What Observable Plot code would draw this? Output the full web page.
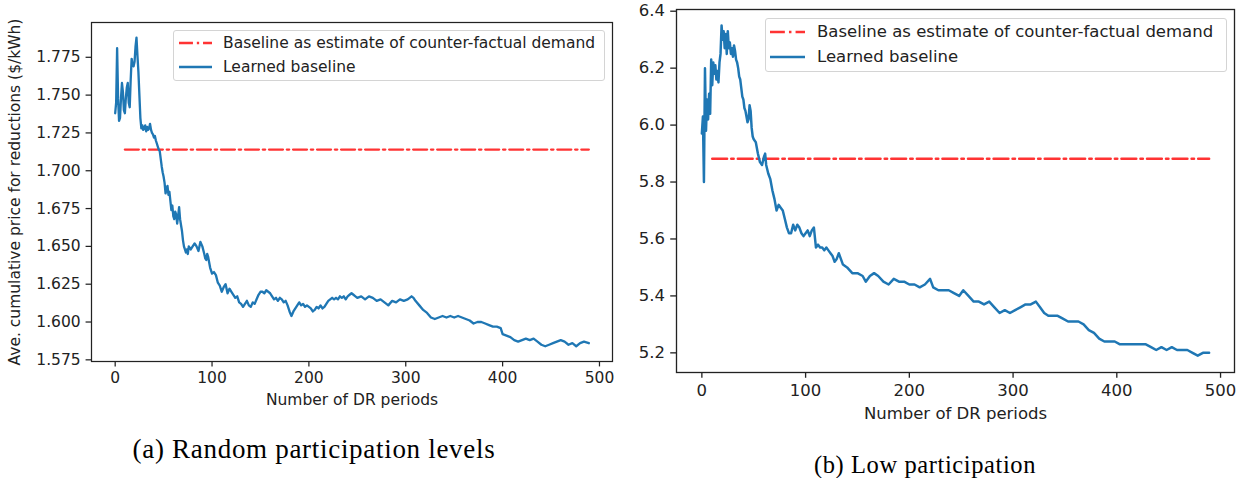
<!DOCTYPE html>
<html><head><meta charset="utf-8">
<script src="https://cdn.jsdelivr.net/npm/d3@7"></script>
<script src="https://cdn.jsdelivr.net/npm/@observablehq/plot@0.6"></script>
<style>
html,body{margin:0;padding:0;background:#fff;}
body{width:1239px;height:478px;overflow:hidden;position:relative;font-family:"DejaVu Sans",sans-serif;}
.panel{position:absolute;top:0;}
.legend{position:absolute;box-sizing:border-box;border:1px solid #d4d4d4;border-radius:3px;background:rgba(255,255,255,0.8);color:#222;}
.legend .row{position:absolute;left:0;white-space:nowrap;line-height:1;}
.legend svg{position:absolute;left:0;top:0;}
.cap{position:absolute;font-family:"Liberation Serif",serif;white-space:nowrap;color:#000;transform:translateX(-50%);}
</style></head><body>
<div id="pa" class="panel" style="left:0px"></div>
<div id="pb" class="panel" style="left:620px"></div>
<div id="la" class="legend" style="left:173px;top:30px;width:432px;height:51px;font-size:15.5px"></div>
<div id="lb" class="legend" style="left:765px;top:18px;width:462px;height:54px;font-size:16.5px"></div>
<div class="cap" style="left:314px;top:434px;font-size:27px;letter-spacing:0.7px">(a) Random participation levels</div>
<div class="cap" style="left:925px;top:451px;font-size:24.5px;letter-spacing:0.6px">(b) Low participation</div>
<script>
// ---------- data ----------
const xTicks = [0, 100, 200, 300, 400, 500];
const leftYTicks = [1.575, 1.600, 1.625, 1.650, 1.675, 1.700, 1.725, 1.750, 1.775];
const rightYTicks = [5.2, 5.4, 5.6, 5.8, 6.0, 6.2, 6.4];
const seriesNames = ["Baseline as estimate of counter-factual demand", "Learned baseline"];
const xLabel = "Number of DR periods";
const yLabelA = "Ave. cumulative price for reductions ($/kWh)";

const baselinePeriods = [10, 489];
const baselineA = [1.714, 1.714];
const baselineB = [5.882, 5.882];

const periodsA = [0,1,2,3,4,5,6,7,8,9,10,11,12,13,14,15,16,17,18,19,20,21,22,23,24,25,26,27,28,29,30,31,32,33,34,35,36,37,38,39,40,41,42,43,44,45,46,47,48,49,50,51,52,53,54,55,56,57,58,59,60,61,62,63,64,65,66,67,68,69,70,71,72,73,74,75,76,78,80,82,84,86,88,90,92,93,94,95,96,98,100,102,104,106,108,110,112,114,116,118,120,122,124,126,128,130,132,134,136,138,140,142,144,146,148,150,152,154,156,158,160,162,164,166,168,170,172,174,176,178,180,182,184,186,188,190,192,194,196,198,200,202,204,206,208,210,212,214,216,218,220,222,224,226,228,230,232,234,236,238,240,242,244,246,248,250,254,258,262,266,270,274,278,282,286,290,294,298,302,306,308,310,314,318,322,326,330,334,338,342,346,350,354,358,362,366,370,374,378,382,386,390,394,398,400,404,408,412,416,420,424,428,432,436,440,444,448,452,456,460,464,468,472,476,480,484,489];
const priceA = [1.738,1.745,1.781,1.748,1.733,1.735,1.748,1.758,1.752,1.740,1.738,1.748,1.755,1.758,1.745,1.742,1.760,1.774,1.770,1.769,1.772,1.782,1.788,1.776,1.765,1.750,1.735,1.728,1.730,1.727,1.728,1.730,1.726,1.729,1.727,1.728,1.731,1.727,1.725,1.724,1.722,1.723,1.720,1.718,1.716,1.714,1.713,1.708,1.703,1.699,1.696,1.692,1.685,1.688,1.690,1.684,1.686,1.680,1.674,1.677,1.670,1.668,1.673,1.671,1.665,1.670,1.676,1.668,1.664,1.660,1.654,1.650,1.648,1.646,1.648,1.645,1.650,1.648,1.650,1.652,1.650,1.647,1.653,1.650,1.645,1.642,1.641,1.645,1.643,1.636,1.632,1.633,1.631,1.626,1.624,1.620,1.623,1.625,1.619,1.622,1.620,1.618,1.616,1.617,1.613,1.612,1.610,1.612,1.614,1.611,1.610,1.613,1.612,1.615,1.618,1.620,1.620,1.619,1.621,1.620,1.619,1.617,1.615,1.616,1.614,1.616,1.615,1.613,1.614,1.611,1.607,1.604,1.607,1.609,1.611,1.613,1.611,1.612,1.610,1.611,1.610,1.609,1.607,1.608,1.610,1.609,1.611,1.609,1.610,1.612,1.614,1.615,1.616,1.615,1.616,1.615,1.617,1.616,1.617,1.615,1.617,1.618,1.619,1.618,1.617,1.616,1.617,1.615,1.617,1.616,1.614,1.615,1.613,1.611,1.614,1.613,1.615,1.614,1.615,1.617,1.616,1.614,1.611,1.608,1.606,1.603,1.602,1.603,1.604,1.603,1.604,1.603,1.604,1.603,1.602,1.601,1.599,1.600,1.600,1.599,1.598,1.597,1.597,1.596,1.592,1.591,1.590,1.588,1.587,1.588,1.589,1.588,1.589,1.587,1.585,1.584,1.585,1.586,1.587,1.588,1.587,1.585,1.586,1.584,1.586,1.587,1.586];

const periodsB = [0,1,2,3,4,5,6,7,8,9,10,11,12,13,14,15,16,17,18,19,20,21,22,23,24,25,26,27,28,29,30,31,32,33,34,35,36,37,38,39,40,41,42,43,44,45,46,47,48,49,50,52,54,56,58,60,61,62,64,66,68,70,72,74,76,78,80,82,84,86,88,90,92,94,96,98,100,102,104,106,108,110,112,114,116,118,120,122,124,126,128,130,132,134,136,140,145,150,155,158,162,166,170,175,180,185,190,195,200,205,210,215,220,223,228,233,238,243,248,252,257,262,267,272,277,282,287,292,297,302,307,312,317,322,326,330,334,338,343,348,353,358,363,368,373,378,383,388,393,398,403,408,413,418,423,428,433,438,443,448,453,458,463,468,473,478,483,489];
const priceB = [5.97,6.03,5.80,6.20,5.98,6.09,6.02,6.11,6.04,6.23,6.14,6.22,6.18,6.21,6.16,6.19,6.15,6.22,6.25,6.35,6.30,6.33,6.27,6.32,6.25,6.33,6.27,6.29,6.25,6.27,6.24,6.28,6.26,6.23,6.22,6.20,6.17,6.16,6.13,6.10,6.09,6.06,6.05,6.03,6.01,6.02,6.07,6.05,5.99,5.96,5.95,5.94,5.90,5.87,5.86,5.89,5.90,5.86,5.83,5.81,5.77,5.74,5.70,5.72,5.71,5.70,5.67,5.64,5.62,5.62,5.65,5.63,5.65,5.64,5.62,5.61,5.62,5.63,5.61,5.63,5.64,5.57,5.58,5.57,5.57,5.56,5.57,5.56,5.55,5.54,5.52,5.53,5.55,5.53,5.51,5.50,5.48,5.48,5.47,5.45,5.47,5.48,5.47,5.45,5.44,5.46,5.45,5.45,5.44,5.44,5.43,5.44,5.46,5.43,5.42,5.42,5.42,5.41,5.40,5.42,5.40,5.38,5.38,5.37,5.38,5.36,5.34,5.35,5.34,5.35,5.36,5.37,5.37,5.38,5.36,5.34,5.33,5.33,5.33,5.32,5.31,5.31,5.31,5.30,5.28,5.27,5.25,5.24,5.24,5.24,5.23,5.23,5.23,5.23,5.23,5.23,5.22,5.21,5.22,5.21,5.22,5.21,5.21,5.21,5.20,5.19,5.20,5.20];

// ---------- drawing ----------
const BLUE = "#1f77b4", RED = "rgb(255,51,51)", INK = "#222";
const rows = (xs, ys) => xs.map((x, i) => ({x, y: ys[i]}));

function panel({width, height, mt, mr, mb, ml, yDomain, yTicks, yFmt, series, base, font, s, yLabel, xLabDy}) {
  const marks = [
    Plot.line(rows(baselinePeriods, base), {x: "x", y: "y", stroke: RED, strokeWidth: 1.5 * s,
      strokeDasharray: `${9 * s} ${2.5 * s} ${1.5 * s} ${2.5 * s}`}),
    Plot.line(series, {x: "x", y: "y", stroke: BLUE, strokeWidth: 1.5 * s, strokeLinejoin: "round"}),
    Plot.frame({stroke: INK, strokeWidth: 0.8 * s}),
    Plot.axisX({ticks: xTicks, tickFormat: d => String(d), tickSize: 3.5 * s, tickPadding: 3.5 * s, label: null, strokeWidth: 0.8 * s, stroke: INK, fill: INK}),
    Plot.axisY({ticks: yTicks, tickFormat: yFmt, tickSize: 3.5 * s, tickPadding: 3.5 * s, label: null, strokeWidth: 0.8 * s, stroke: INK, fill: INK}),
    Plot.text([xLabel], {frameAnchor: "bottom", dy: xLabDy, text: d => d, fill: INK, lineAnchor: "middle", textAnchor: "middle"})
  ];
  if (yLabel) marks.push(Plot.text([yLabel], {frameAnchor: "left", rotate: -90, dx: -76, text: d => d, fill: INK, lineAnchor: "middle", textAnchor: "middle"}));
  return Plot.plot({
    width, height, marginTop: mt, marginRight: mr, marginBottom: mb, marginLeft: ml,
    style: {fontFamily: "DejaVu Sans", fontSize: font + "px", background: "transparent", color: INK, overflow: "visible"},
    x: {domain: [-24.45, 513.45]},
    y: {domain: yDomain},
    marks
  });
}

document.getElementById("pa").append(panel({
  width: 620, height: 420, mt: 22, mr: 8, mb: 59, ml: 91,
  yDomain: [1.5739, 1.798], yTicks: leftYTicks, yFmt: d3.format(".3f"),
  series: rows(periodsA, priceA), base: baselineA, font: 15.5, s: 1.55, yLabel: yLabelA, xLabDy: 39
}));
document.getElementById("pb").append(panel({
  width: 619, height: 430, mt: 9, mr: 5, mb: 58, ml: 56,
  yDomain: [5.131, 6.406], yTicks: rightYTicks, yFmt: d3.format(".1f"),
  series: rows(periodsB, priceB), base: baselineB, font: 16.5, s: 1.65, yLabel: null, xLabDy: 41
}));

// legends
function legend(id, s, rowYs, hx0, hx1, tx) {
  const el = document.getElementById(id);
  const ns = "http://www.w3.org/2000/svg";
  const svg = document.createElementNS(ns, "svg");
  svg.setAttribute("width", el.clientWidth); svg.setAttribute("height", el.clientHeight);
  const specs = [
    {stroke: RED, dash: `${9 * s} ${2.5 * s} ${1.5 * s} ${2.5 * s}`},
    {stroke: BLUE, dash: null}
  ];
  specs.forEach((sp, i) => {
    const l = document.createElementNS(ns, "line");
    l.setAttribute("x1", hx0); l.setAttribute("x2", hx1);
    l.setAttribute("y1", rowYs[i]); l.setAttribute("y2", rowYs[i]);
    l.setAttribute("stroke", sp.stroke); l.setAttribute("stroke-width", 1.5 * s);
    if (sp.dash) l.setAttribute("stroke-dasharray", sp.dash);
    svg.appendChild(l);
    const t = document.createElement("div");
    t.className = "row"; t.textContent = seriesNames[i];
    t.style.left = tx + "px"; t.style.top = (rowYs[i] - 0.5 * parseFloat(el.style.fontSize) + 0.5) + "px";
    el.appendChild(t);
  });
  el.appendChild(svg);
}
legend("la", 1.55, [12, 36], 5, 38, 49);
legend("lb", 1.65, [13, 38], 4, 39, 51);
</script>
</body></html>
